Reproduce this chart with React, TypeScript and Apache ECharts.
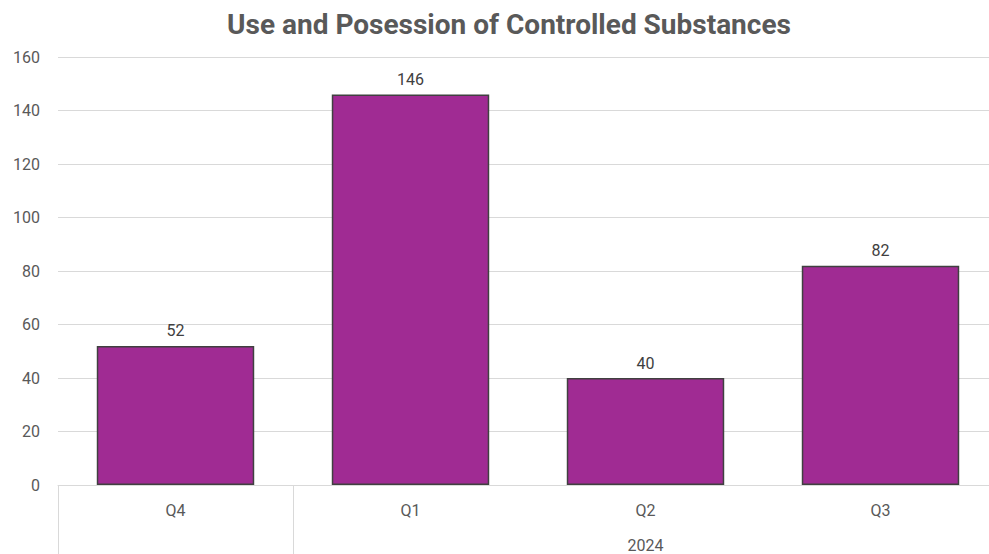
import React, { useEffect, useRef } from "react";
import * as echarts from "echarts";

const categories = ["Q4", "Q1", "Q2", "Q3"];
const values = [52, 146, 40, 82];
const yearLabels = ["2024"];
const yearLabelPositions = [2.5];
const groupSeparators = [0, 1];
const title = "Use and Posession of Controlled Substances";

export default function App() {
  const ref = useRef<HTMLDivElement>(null);
  useEffect(() => {
    if (!ref.current) return;
    const chart = echarts.init(ref.current, null, { renderer: "svg" });
    chart.setOption({
      animation: false,
      backgroundColor: "#ffffff",
      title: {
        text: title,
        left: 504,
        textAlign: "center",
        top: 5,
        textStyle: {
          fontFamily: "Roboto",
          fontWeight: "bold",
          fontSize: 28,
          color: "#595959",
        },
      },
      grid: {
        left: 58,
        width: 940,
        top: 57,
        height: 428,
        containLabel: false,
        outerBoundsMode: "none",
      },
      xAxis: [
        {
          type: "category",
          data: categories,
          axisLine: { show: true, lineStyle: { color: "#d9d9d9", width: 1 } },
          axisTick: { show: false },
          axisLabel: {
            color: "#595959",
            fontSize: 16,
            fontFamily: "Roboto",
            margin: 17,
          },
        },
        {
          type: "value",
          position: "bottom",
          min: 0,
          max: 4,
          splitLine: { show: false },
          axisLine: { show: false },
          axisTick: {
            show: true,
            customValues: groupSeparators,
            length: 75,
            lineStyle: { color: "#d9d9d9", width: 1 },
          },
          axisLabel: {
            show: true,
            customValues: yearLabelPositions,
            formatter: () => yearLabels[0],
            color: "#595959",
            fontSize: 16,
            fontFamily: "Roboto",
            margin: 52,
          },
        },
      ],
      yAxis: {
        type: "value",
        min: 0,
        max: 160,
        interval: 20,
        axisLine: { show: false },
        axisTick: { show: false },
        splitLine: { lineStyle: { color: "#d9d9d9", width: 1 } },
        axisLabel: {
          color: "#595959",
          fontSize: 16,
          fontFamily: "Roboto",
          margin: 18,
        },
      },
      series: [
        {
          type: "bar",
          data: values,
          xAxisIndex: 0,
          barWidth: "67%",
          itemStyle: {
            color: "#A02B93",
            borderColor: "#404040",
            borderWidth: 1.5,
          },
          label: {
            show: true,
            position: "top",
            distance: 7,
            color: "#404040",
            fontSize: 16,
            fontFamily: "Roboto",
          },
        },
      ],
    });
    return () => chart.dispose();
  }, []);
  return (
    <div
      ref={ref}
      style={{ position: "fixed", left: 0, top: 0, width: 989, height: 554 }}
    />
  );
}
